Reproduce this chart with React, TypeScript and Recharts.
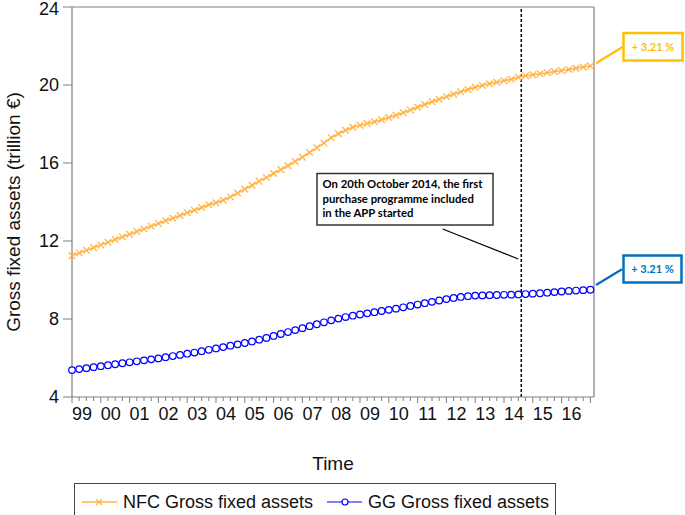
import React from 'react';
import { LineChart, Line, XAxis, YAxis, ReferenceLine } from 'recharts';

// Year tick labels (quarterly data, 1999Q1 onward)
const yearLabels = ['99', '00', '01', '02', '03', '04', '05', '06', '07', '08', '09', '10', '11', '12', '13', '14', '15', '16'];

// NFC Gross fixed assets (trillion €), quarterly
const nfcValues = [
  11.25, 11.39, 11.52, 11.66, 11.80, 11.94, 12.08, 12.21, 12.35, 12.49,
  12.62, 12.76, 12.90, 13.04, 13.17, 13.31, 13.45, 13.58, 13.72, 13.86,
  13.96, 14.09, 14.26, 14.46, 14.66, 14.86, 15.06, 15.26, 15.46, 15.66,
  15.86, 16.08, 16.30, 16.54, 16.78, 17.02, 17.30, 17.50, 17.68, 17.83,
  17.93, 18.02, 18.12, 18.22, 18.33, 18.45, 18.58, 18.72, 18.86, 19.00,
  19.14, 19.27, 19.40, 19.53, 19.65, 19.77, 19.88, 19.98, 20.06, 20.14,
  20.22, 20.30, 20.40, 20.48, 20.53, 20.58, 20.63, 20.69, 20.74, 20.80,
  20.86, 20.92, 20.97,
];

// GG Gross fixed assets (trillion €), quarterly
const ggValues = [
  5.38, 5.43, 5.48, 5.53, 5.58, 5.63, 5.68, 5.73, 5.78, 5.83,
  5.88, 5.93, 5.98, 6.04, 6.10, 6.16, 6.22, 6.28, 6.35, 6.42,
  6.49, 6.56, 6.63, 6.70, 6.77, 6.85, 6.94, 7.03, 7.13, 7.23,
  7.33, 7.43, 7.53, 7.63, 7.73, 7.83, 7.93, 8.02, 8.10, 8.17,
  8.23, 8.29, 8.35, 8.41, 8.47, 8.53, 8.60, 8.67, 8.74, 8.81,
  8.88, 8.95, 9.02, 9.08, 9.13, 9.17, 9.20, 9.21, 9.22, 9.23,
  9.24, 9.25, 9.26, 9.28, 9.30, 9.32, 9.35, 9.38, 9.41, 9.44,
  9.46, 9.48, 9.50,
];

const yTicks = [4, 8, 12, 16, 20, 24];
const appStartQuarter = 62.4; // 20 October 2014
const nfcGrowth = '+ 3.21 %';
const ggGrowth = '+ 3.21 %';
const annotationLines = ['On 20th October 2014, the first', 'purchase programme included', 'in the APP started'];

const data = nfcValues.map((v, i) => ({ q: i, nfc: v, gg: ggValues[i] }));
const quarterTicks = data.map((d) => d.q);

const ORANGE = '#FFB547';
const BLUE = '#0000FF';
const AXIS = '#7f7f7f';
const FONT = '"Liberation Sans", Arial, sans-serif';
const NOTE_FONT = 'Lato, "Open Sans", sans-serif';

const XTick = (props: any) => {
  const { x, y, payload } = props;
  const v = payload.value as number;
  const major = v % 4 === 0;
  return (
    <g>
      <line x1={x} x2={x} y1={y} y2={y + (major ? 6 : 4)} stroke={AXIS} strokeWidth={1} />
      {major && yearLabels[v / 4] !== undefined && (
        <text x={x + 10} y={y + 23} textAnchor="middle" fontSize={18} fontFamily={FONT} fill="#111">
          {yearLabels[v / 4]}
        </text>
      )}
    </g>
  );
};

const YTick = (props: any) => {
  const { x, y, payload } = props;
  return (
    <text x={x} y={Math.max(y + 6, 15)} textAnchor="end" fontSize={18} fontFamily={FONT} fill="#111">
      {payload.value}
    </text>
  );
};

const CrossDot = (props: any) => {
  const { cx, cy, index } = props;
  if (cx == null || cy == null) return <g key={index} />;
  const s = 3.3;
  return (
    <g key={index}>
      <line x1={cx - s} y1={cy - s} x2={cx + s} y2={cy + s} stroke={ORANGE} strokeWidth={1.3} />
      <line x1={cx - s} y1={cy + s} x2={cx + s} y2={cy - s} stroke={ORANGE} strokeWidth={1.3} />
    </g>
  );
};

export default function App() {
  return (
    <div style={{ position: 'absolute', left: 0, top: 0, width: 685, height: 515, background: '#fff' }}>
      <LineChart
        width={685}
        height={515}
        data={data}
        margin={{ top: 7, right: 91, bottom: 43, left: 0 }}
      >
        <XAxis
          dataKey="q"
          type="number"
          domain={[0, 72.5]}
          ticks={quarterTicks}
          interval={0}
          tick={<XTick />}
          tickLine={false}
          tickSize={0}
          tickMargin={0}
          height={75}
          axisLine={{ stroke: AXIS, strokeWidth: 1.2 }}
        />
        <YAxis
          type="number"
          domain={[4, 24]}
          ticks={yTicks}
          interval={0}
          width={72}
          tickSize={9}
          tickMargin={4}
          tickLine={{ stroke: AXIS }}
          axisLine={{ stroke: AXIS, strokeWidth: 1.2 }}
          tick={<YTick />}
        />
        <ReferenceLine y={24} stroke={AXIS} strokeWidth={1.2} />
        <ReferenceLine x={72.5} stroke={AXIS} strokeWidth={1.2} />
        <ReferenceLine x={appStartQuarter} stroke="#000" strokeWidth={1.5} strokeDasharray="3 2" />
        <Line
          dataKey="nfc"
          stroke={ORANGE}
          strokeWidth={1.5}
          dot={<CrossDot />}
          isAnimationActive={false}
        />
        <Line
          dataKey="gg"
          stroke={BLUE}
          strokeWidth={1.2}
          dot={{ r: 3.3, fill: '#fff', stroke: BLUE, strokeWidth: 1.2 }}
          isAnimationActive={false}
        />
      </LineChart>
      <svg
        width={685}
        height={515}
        style={{ position: 'absolute', left: 0, top: 0, pointerEvents: 'none' }}
      >
        {/* axis titles */}
        <text
          x={0}
          y={0}
          transform="translate(20 212) rotate(-90)"
          textAnchor="middle"
          fontSize={19}
          fontFamily={FONT}
          fill="#111"
        >
          Gross fixed assets (trillion €)
        </text>
        <text x={333} y={470} textAnchor="middle" fontSize={19} fontFamily={FONT} fill="#111">
          Time
        </text>

        {/* APP annotation */}
        <line x1={442.7} y1={229} x2={518.3} y2={259} stroke="#000" strokeWidth={1.2} />
        <rect x={317} y={173.5} width={176} height={51.5} fill="#fff" stroke="#333" strokeWidth={1.5} />
        {annotationLines.map((t, i) => (
          <text key={i} x={322.5} y={188 + i * 14.5} fontSize={11.3} fontWeight={700} fontFamily={NOTE_FONT} fill="#000">
            {t}
          </text>
        ))}

        {/* growth callouts */}
        <line x1={596} y1={63.3} x2={623} y2={46.7} stroke="#FFC000" strokeWidth={2.2} />
        <rect x={623.5} y={33} width={59} height={27.5} fill="#fff" stroke="#FFC000" strokeWidth={2.5} />
        <text x={653} y={51} textAnchor="middle" fontSize={11} fontWeight={700} fontFamily={NOTE_FONT} fill="#FFC000">
          {nfcGrowth}
        </text>
        <line x1={596} y1={285} x2={622} y2={269.3} stroke="#0070C0" strokeWidth={2.2} />
        <rect x={623.5} y={255.5} width={58} height={27} fill="#fff" stroke="#0070C0" strokeWidth={2.5} />
        <text x={652.5} y={273} textAnchor="middle" fontSize={11} fontWeight={700} fontFamily={NOTE_FONT} fill="#0070C0">
          {ggGrowth}
        </text>

        {/* legend */}
        <rect x={74.5} y={483.5} width={481} height={40} fill="none" stroke="#444" strokeWidth={1} />
        <line x1={82} y1={502} x2={117} y2={502} stroke={ORANGE} strokeWidth={1.5} />
        <line x1={96} y1={499} x2={102} y2={505} stroke={ORANGE} strokeWidth={1.3} />
        <line x1={96} y1={505} x2={102} y2={499} stroke={ORANGE} strokeWidth={1.3} />
        <text x={123} y={508} fontSize={18} fontFamily={FONT} fill="#111">NFC Gross fixed assets</text>
        <line x1={327} y1={502} x2={362} y2={502} stroke={BLUE} strokeWidth={1.2} />
        <circle cx={345} cy={502} r={3} fill="#fff" stroke={BLUE} strokeWidth={1.2} />
        <text x={368} y={508} fontSize={18} fontFamily={FONT} fill="#111">GG Gross fixed assets</text>
      </svg>
    </div>
  );
}
